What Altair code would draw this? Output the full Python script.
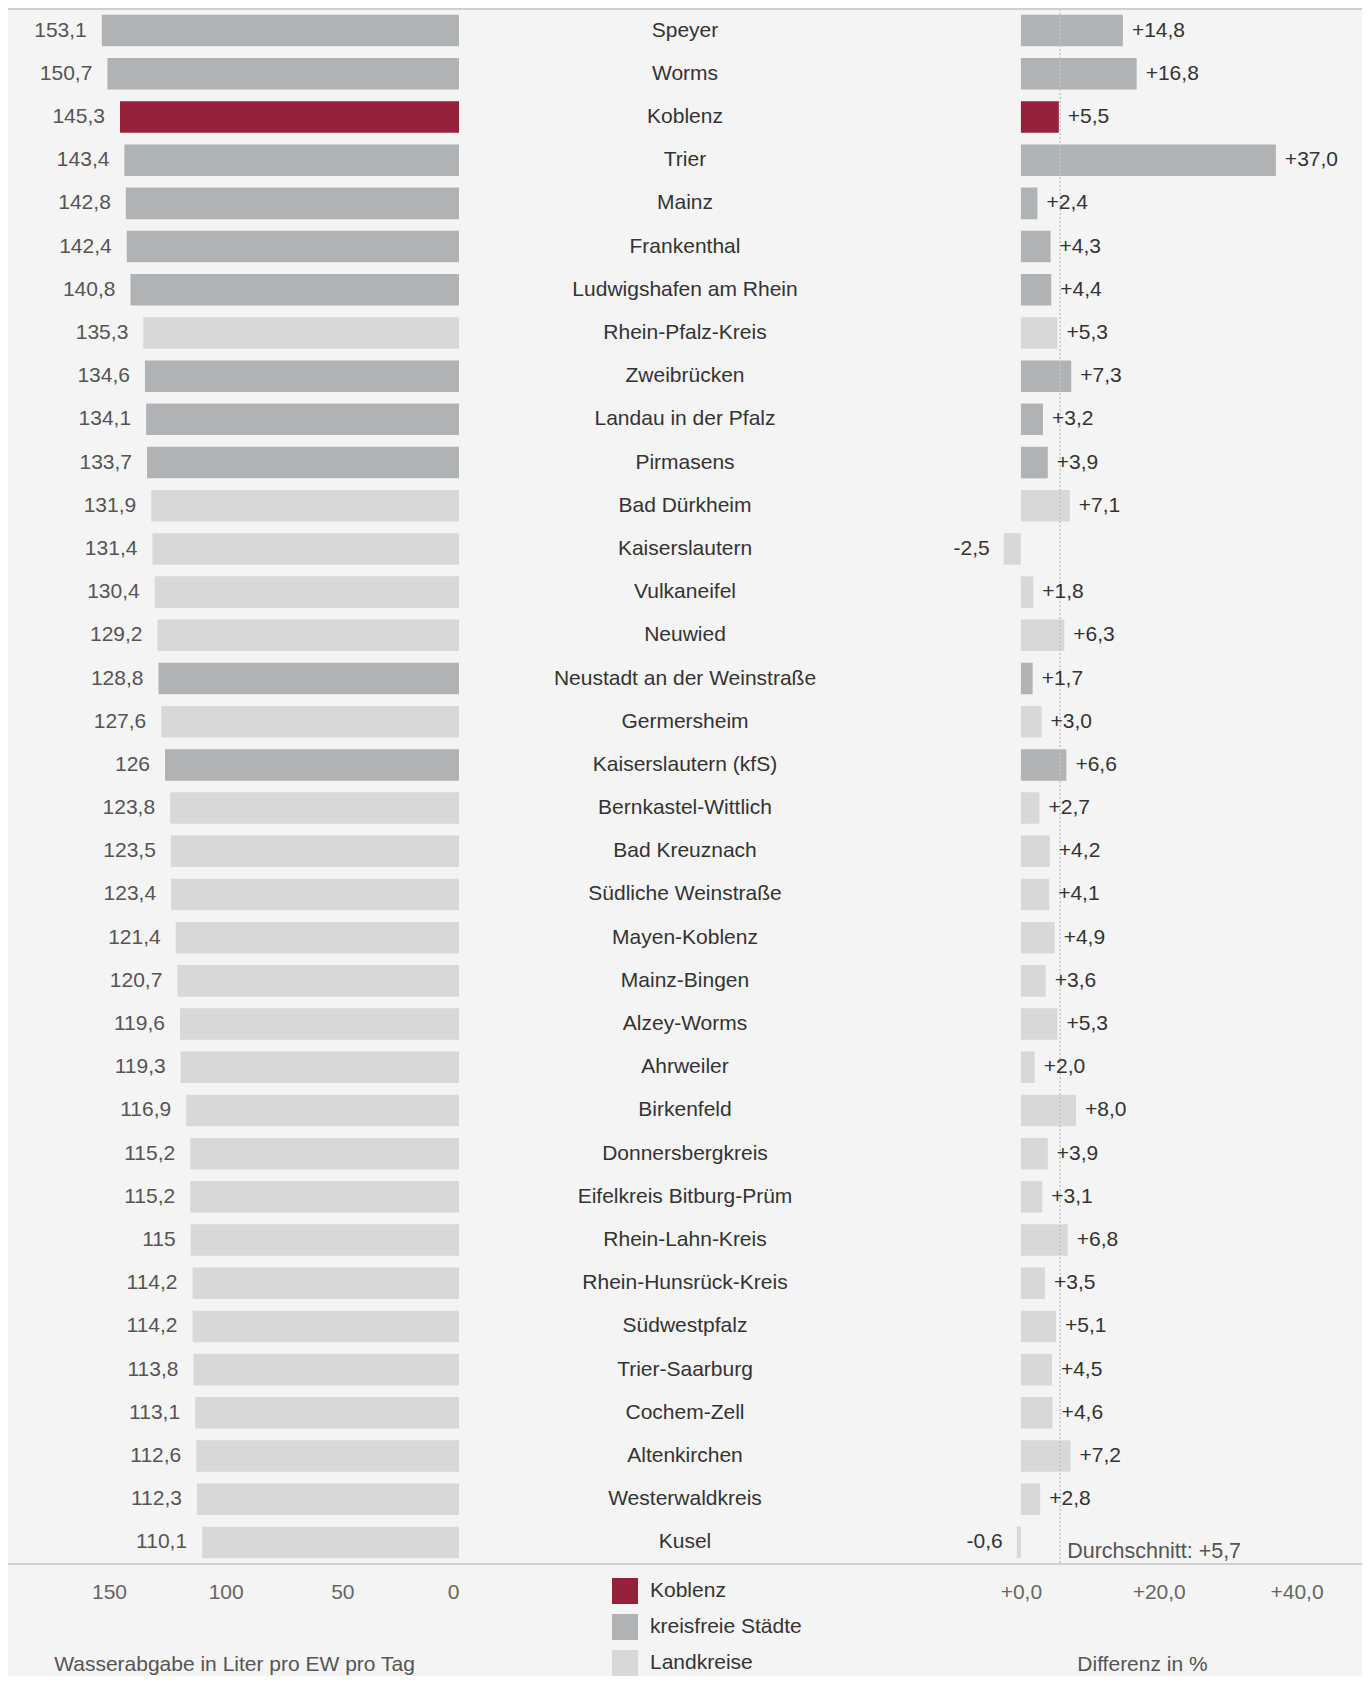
import altair as alt
import pandas as pd

# ---------------- data ----------------
regions = [
    "Speyer", "Worms", "Koblenz", "Trier", "Mainz", "Frankenthal",
    "Ludwigshafen am Rhein", "Rhein-Pfalz-Kreis", "Zweibrücken",
    "Landau in der Pfalz", "Pirmasens", "Bad Dürkheim", "Kaiserslautern",
    "Vulkaneifel", "Neuwied", "Neustadt an der Weinstraße", "Germersheim",
    "Kaiserslautern (kfS)", "Bernkastel-Wittlich", "Bad Kreuznach",
    "Südliche Weinstraße", "Mayen-Koblenz", "Mainz-Bingen", "Alzey-Worms",
    "Ahrweiler", "Birkenfeld", "Donnersbergkreis", "Eifelkreis Bitburg-Prüm",
    "Rhein-Lahn-Kreis", "Rhein-Hunsrück-Kreis", "Südwestpfalz",
    "Trier-Saarburg", "Cochem-Zell", "Altenkirchen", "Westerwaldkreis", "Kusel",
]
water = [
    153.1, 150.7, 145.3, 143.4, 142.8, 142.4, 140.8, 135.3, 134.6, 134.1,
    133.7, 131.9, 131.4, 130.4, 129.2, 128.8, 127.6, 126.0, 123.8, 123.5,
    123.4, 121.4, 120.7, 119.6, 119.3, 116.9, 115.2, 115.2, 115.0, 114.2,
    114.2, 113.8, 113.1, 112.6, 112.3, 110.1,
]
change = [
    14.8, 16.8, 5.5, 37.0, 2.4, 4.3, 4.4, 5.3, 7.3, 3.2,
    3.9, 7.1, -2.5, 1.8, 6.3, 1.7, 3.0, 6.6, 2.7, 4.2,
    4.1, 4.9, 3.6, 5.3, 2.0, 8.0, 3.9, 3.1, 6.8, 3.5,
    5.1, 4.5, 4.6, 7.2, 2.8, -0.6,
]
K, S, L = "Koblenz", "kreisfreie Städte", "Landkreise"
groups = [
    S, S, K, S, S, S, S, L, S, S,
    S, L, L, L, L, S, L, S, L, L,
    L, L, L, L, L, L, L, L, L, L,
    L, L, L, L, L, L,
]
group_domain = [K, S, L]
group_colors = ["#97203b", "#b1b2b4", "#d8d8d8"]
avg_change = 5.7

left_ticks = [0, 50, 100, 150]
right_ticks = [0, 20, 40]


def de_num(v):
    if float(v).is_integer():
        return str(int(v))
    return f"{v:.1f}".replace(".", ",")


def de_signed(v):
    return f"{v:+.1f}".replace(".", ",")


df = pd.DataFrame({
    "region": regions,
    "water": water,
    "change": change,
    "group": groups,
})
df["water_label"] = [de_num(v) for v in water]
df["change_label"] = [de_signed(v) for v in change]

avg_df = pd.DataFrame({"avg": [avg_change],
                       "label": ["Durchschnitt: " + de_signed(avg_change)]})
one = pd.DataFrame({"k": [0]})

# ---------------- layout ----------------
W = 1354          # whole plot width (three columns share it)
H = 1555
PAD_TOP, PAD_BOTTOM = 1, 112
FONT = "Liberation Sans"
FS = 21
LINE = "#cfcfcf"

# left column: reversed scale, zero at x=451, ~2.333 px per litre
left_domain = [-387.05, 193.3]
# right column: zero at x=1013, ~6.89 px per percent
right_domain = [-147.0, 49.5]

yenc = alt.Y("region:N", sort=regions, axis=None,
             scale=alt.Scale(paddingInner=0.27, paddingOuter=0.135))

color = alt.Color(
    "group:N",
    scale=alt.Scale(domain=group_domain, range=group_colors),
    legend=alt.Legend(
        title=None, orient="none", legendX=604, legendY=1569,
        direction="vertical", symbolType="square", symbolSize=676,
        symbolStrokeWidth=0, labelFontSize=FS, labelFont=FONT,
        labelColor="#333333", labelOffset=12, rowPadding=10, padding=0,
    ),
)

# ---- left column ----
xl = alt.X(
    "water:Q",
    scale=alt.Scale(domain=left_domain, reverse=True, nice=False, zero=False),
    axis=alt.Axis(
        values=left_ticks, orient="bottom", offset=0,
        title="Wasserabgabe in Liter pro EW pro Tag",
        grid=False, domain=False, ticks=False, tickSize=0, labelPadding=17,
        labelFlush=False,
        labelAlign={"expr": "datum.value == 0 ? 'right' : 'center'"},
        titleX=226, titleY=89, titleAlign="center", titleBaseline="top",
    ),
)
left_bars = alt.Chart(df).mark_bar().encode(x=xl, y=yenc, color=color)
left_text = alt.Chart(df).mark_text(
    align="right", dx=-15, fontSize=FS, font=FONT, color="#555555"
).encode(x="water:Q", y=yenc, text="water_label:N")
left = alt.layer(left_bars, left_text)

# ---- right column ----
xr = alt.X(
    "change:Q",
    scale=alt.Scale(domain=right_domain, nice=False, zero=False),
    axis=alt.Axis(
        values=right_ticks, orient="bottom", offset=0, title="Differenz in %",
        labelExpr="(datum.value >= 0 ? '+' : '') + replace(format(datum.value, '.1f'), '.', ',')",
        grid=False, domain=False, ticks=False, tickSize=0, labelPadding=17,
        labelFlush=False,
        titleX=1134, titleY=89, titleAlign="center", titleBaseline="top",
    ),
)
right_bars = alt.Chart(df).mark_bar().encode(x=xr, y=yenc, color=color)
avg_rule = alt.Chart(avg_df).mark_rule(
    color="#c4c4c4", strokeDash=[2, 2], strokeWidth=1.5
).encode(x="avg:Q")
pos_text = alt.Chart(df).transform_filter("datum.change >= 0").mark_text(
    align="left", dx=9, fontSize=FS, font=FONT, color="#333333"
).encode(x="change:Q", y=yenc, text="change_label:N")
neg_text = alt.Chart(df).transform_filter("datum.change < 0").mark_text(
    align="right", dx=-14, fontSize=FS, font=FONT, color="#333333"
).encode(x="change:Q", y=yenc, text="change_label:N")
avg_text = alt.Chart(avg_df).mark_text(
    align="left", baseline="middle", dx=7, fontSize=21.5, font=FONT,
    color="#555555"
).encode(x="avg:Q", y=alt.value(H - 12), text="label:N")
right = alt.layer(right_bars, avg_rule, pos_text, neg_text, avg_text)

# ---- middle column: names ----
mid_text = alt.Chart(df).mark_text(
    align="center", fontSize=FS, font=FONT, color="#333333"
).encode(x=alt.value(677), y=yenc, text="region:N")

# ---- frame lines ----
top_line = alt.Chart(one).mark_rule(color=LINE, strokeWidth=2).encode(
    x=alt.value(0), x2=alt.value(W), y=alt.value(0))
bottom_line = alt.Chart(one).mark_rule(color=LINE, strokeWidth=2).encode(
    x=alt.value(0), x2=alt.value(W), y=alt.value(H))

chart = alt.layer(left, right, mid_text, top_line, bottom_line).resolve_scale(
    x="independent"
).properties(
    width=W, height=H, background="#f4f4f4",
    autosize=alt.AutoSizeParams(type="none"),
    padding={"left": 0, "top": PAD_TOP, "right": 0, "bottom": PAD_BOTTOM},
).configure_view(stroke=None).configure_axis(
    labelFont=FONT, labelFontSize=FS, labelColor="#666666",
    titleFont=FONT, titleFontSize=FS, titleColor="#555555",
    titleFontWeight="normal",
).configure_text(font=FONT)

chart.save("out.html", embed_options={"renderer": "svg", "actions": False})
